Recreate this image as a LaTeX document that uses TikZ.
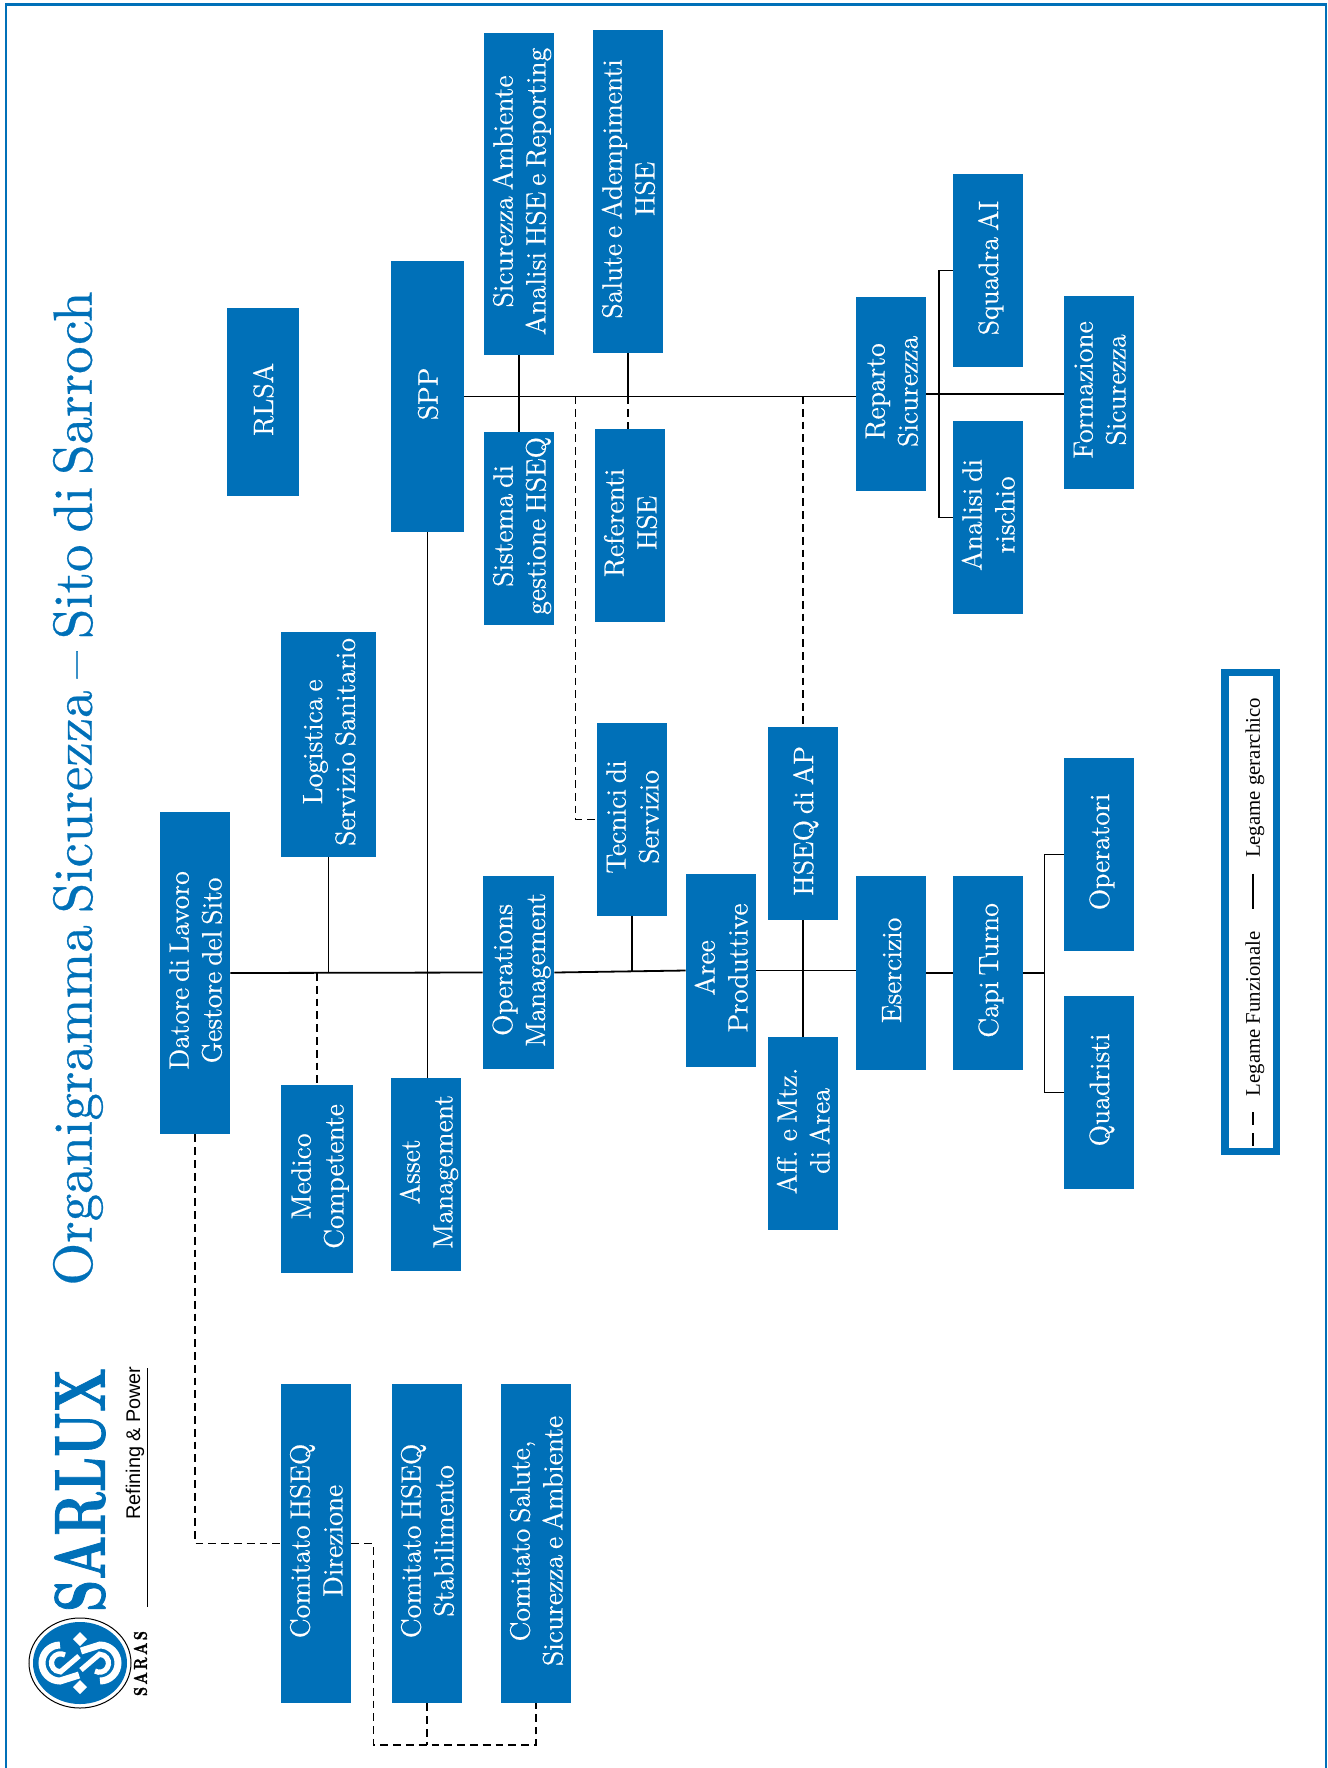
\documentclass[tikz,border=0pt]{standalone}
\usepackage{fontspec}
\newfontfamily\legendfont{Liberation Serif}
\newfontfamily\brandfont{Liberation Sans}
\newfontfamily\blockfont[WordSpace=0.65,RawFeature={embolden=0.5}]{Latin Modern Roman}
\newfontfamily\logofont[RawFeature={embolden=1.5}]{Latin Modern Roman}
\definecolor{sarasblue}{RGB}{0,112,184}
\tikzset{
  blockbox/.style={rectangle,fill=sarasblue,text=white,inner sep=0pt,font=\blockfont\fontsize{14}{16.4}\selectfont},
  hierlink/.style={draw=black,line width=0.9pt},
  funclink/.style={draw=black,line width=0.9pt,dash pattern=on 3.9pt off 2.5pt},
  legendtext/.style={rotate=90,inner sep=0pt,font=\legendfont\fontsize{10.4}{13}\selectfont}
}
\def\blocknode(#1)(#2:#3:#4:#5)#6{\node[blockbox,minimum width={(#4-#2)*0.5pt},minimum height={(#5-#3)*0.5pt}] (#1) at ({(#2+#4)/2},{(#3+#5)/2}) {\makebox[0pt]{\hspace*{3.5pt}\raisebox{2.6pt}{\rotatebox{90}{\begin{tabular}{@{}c@{}}#6\end{tabular}}}}};}

\begin{document}
\begin{tikzpicture}[x=0.5pt,y=-0.5pt]
	\useasboundingbox (0,0) rectangle (1328,1768);
	\draw[draw=sarasblue,line width=1.25pt] (6,1768) -- (6,4.5) -- (1326,4.5) -- (1326,1768);
	
	\node[rotate=90,inner sep=0pt,text=sarasblue] (title) at (78,788.5) {\resizebox{497pt}{!}{\blockfont Organigramma Sicurezza \textendash{} Sito di Sarroch}};
	
	% logo
	\draw[fill=white,line width=0.5pt] (80,1663) ellipse (51 and 45);
	\fill[sarasblue] (80,1663) ellipse (47 and 41);
	\foreach \turn in {0,180}{
		\begin{scope}[shift={(80,1663)},x=0.5pt,y=0.5pt,rotate=\turn]
			\draw[white,line width=3.5pt] (-20,18) arc (90:270:18) -- (-1,-12);
			\draw[white,line width=2.6pt] (-15,8) arc (60:270:9) -- (-1,7);
			\fill[white] (0,-31) -- (7,-24) -- (0,-17) -- (-7,-24) -- cycle;
		\end{scope}
	}
	\node[rotate=90,inner sep=0pt,text=sarasblue] (sarlux) at (80,1490) {\resizebox{122pt}{25pt}{\logofont\bfseries SARLUX}};
	\node[rotate=90,inner sep=0pt,font=\brandfont\fontsize{9.9}{12}\selectfont] (refining) at (135,1443) {Refining \& Power};
	\node[rotate=90,inner sep=0pt] (saras) at (140.5,1663.5) {\resizebox{32.5pt}{6.5pt}{\logofont\bfseries S\,A\,R\,A\,S}};
	\draw[line width=0.5pt] (147,1368) -- (147,1607);
	
	\blocknode(datore)(160:812:230:1134){Datore di Lavoro\\Gestore del Sito}
	\blocknode(logistica)(281:632:376:857){Logistica e\\Servizio Sanitario}
	\blocknode(medico)(281:1085:353:1273){Medico\\Competente}
	\blocknode(rlsa)(227:308:299:496){RLSA}
	\blocknode(spp)(391:261:464:532){SPP}
	\blocknode(asset)(391:1078:461:1271){Asset\\Management}
	\blocknode(sicurezza)(484:33:554:355){Sicurezza Ambiente\\Analisi HSE e Reporting}
	\blocknode(sistema)(484:432:554:625){Sistema di\\gestione HSEQ}
	\blocknode(operations)(483:876:554:1069){Operations\\Management}
	\blocknode(salute)(593:30:663:353){Salute e Adempimenti\\HSE}
	\blocknode(referenti)(595:429:665:622){Referenti\\HSE}
	\blocknode(tecnici)(597:723:667:916){Tecnici di\\Servizio}
	\blocknode(aree)(686:874:756:1067){Aree\\Produttive}
	\blocknode(hseqap)(768:727:838:920){HSEQ di AP}
	\blocknode(aff)(768:1037:838:1230){Aff. e Mtz.\\di Area}
	\blocknode(reparto)(856:297:926:491){Reparto\\Sicurezza}
	\blocknode(esercizio)(856:876:926:1070){Esercizio}
	\blocknode(squadra)(953:174:1023:367){Squadra AI}
	\blocknode(analisi)(953:421:1023:614){Analisi di\\rischio}
	\blocknode(capi)(953:876:1023:1070){Capi Turno}
	\blocknode(formazione)(1064:296:1134:489){Formazione\\Sicurezza}
	\blocknode(operatori)(1064:758:1134:951){Operatori}
	\blocknode(quadristi)(1064:996:1134:1189){Quadristi}
	\blocknode(comitatoA)(281:1384:351:1703){Comitato HSEQ\\Direzione}
	\blocknode(comitatoB)(392:1384:462:1703){Comitato HSEQ\\Stabilimento}
	\blocknode(comitatoC)(501:1384:571:1703){Comitato Salute,\\Sicurezza e Ambiente}
	
	\coordinate (sppbus) at (575.5,396);
	\coordinate (sitobus) at (373.5,1745);
	\coordinate (repartobus) at (939,394);
	\coordinate (capibus) at (1044.5,973);
	
	% hierarchy
	\draw[hierlink] (datore.east) -- (operations.west);
	\draw[hierlink] (operations.east) -- (aree.west);
	\draw[hierlink] (aree.east) -- (esercizio.west |- aree.east);
	\draw[hierlink] (esercizio.east) -- (capi.west);
	\draw[hierlink] (logistica.south) -- (logistica.south |- datore.east);
	\draw[hierlink] (spp.south) -- (spp.south |- asset.north);
	\draw[hierlink] (tecnici.south) -- (tecnici.south |- aree.west);
	\draw[hierlink] (hseqap.south) -- (hseqap.south |- aff.north);
	\draw[hierlink] (spp.east) -- (reparto.west |- spp.east);
	\draw[hierlink] (sicurezza.south) -- (sistema.north);
	\draw[hierlink] (salute.south) -- (salute.south |- spp.east);
	\draw[hierlink] (reparto.east |- repartobus) -- (formazione.west |- repartobus);
	\draw[hierlink] (squadra.west) -| (repartobus) |- (analisi.west);
	\draw[hierlink] (capi.east) -- (capibus);
	\draw[hierlink] (operatori.west) -| (capibus) |- (quadristi.west);
	
	% functional
	\draw[funclink] (medico.north |- datore.east) -- (medico.north);
	\draw[funclink] (sppbus) |- (tecnici.west);
	\draw[funclink] (hseqap.north |- sppbus) -- (hseqap.north);
	\draw[funclink] (salute.south |- spp.east) -- (salute.south |- referenti.north);
	\draw[funclink] (datore.south) |- (comitatoA.west);
	\draw[funclink] (comitatoA.east) -| (sitobus) -| (comitatoC.south);
	\draw[funclink] (comitatoB.south) -- (comitatoB.south |- sitobus);
	
	% legend
	\draw[draw=sarasblue,line width=3.75pt] (1225,672.4) rectangle (1276.5,1151.7);
	\node[legendtext] (gerarchico) at (1255,778) {Legame gerarchico};
	\node[legendtext] (funzionale) at (1255,1014) {Legame Funzionale};
	\draw[line width=0.6pt] (1253,873.5) -- (1253,909);
	\draw[line width=0.6pt] (1253,1112) -- (1253,1125);
	\draw[line width=0.6pt] (1253,1133) -- (1253,1146);
\end{tikzpicture}
\end{document}
